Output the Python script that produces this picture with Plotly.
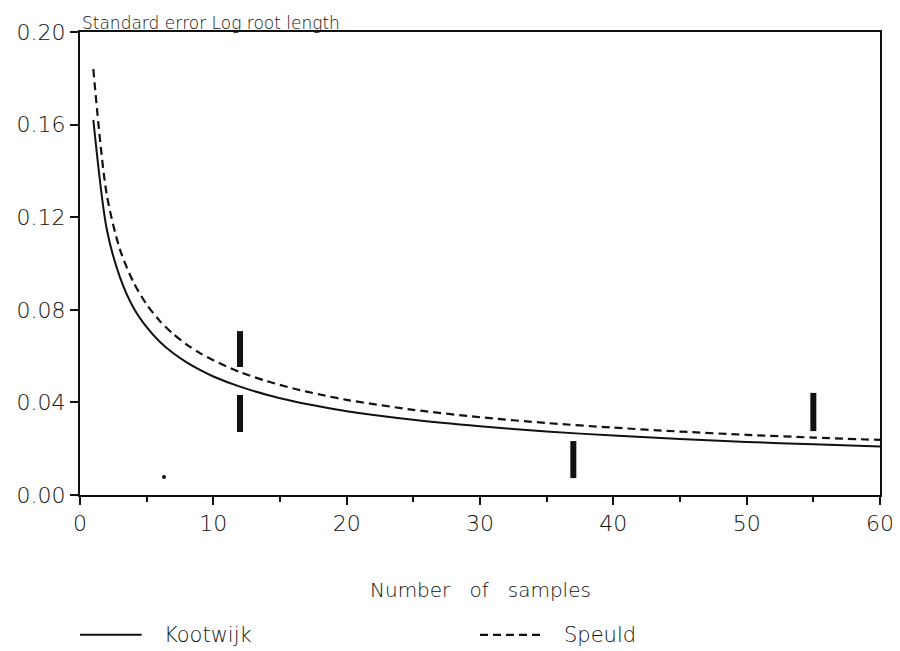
import plotly.graph_objects as go

# Data
n_samples = [1, 2, 3, 4, 5, 6, 7, 8, 9, 10, 12, 14, 16, 18, 20, 25, 30, 35, 40, 45, 50, 55, 60]
kootwijk = [0.162, 0.115, 0.094, 0.081, 0.0725, 0.0661, 0.0612, 0.0573, 0.054, 0.0512, 0.0468, 0.0433,
            0.0405, 0.0382, 0.0362, 0.0325, 0.0297, 0.0274, 0.0257, 0.0242, 0.0229, 0.0219, 0.0209]
speuld = [0.184, 0.130, 0.106, 0.092, 0.0823, 0.0751, 0.0695, 0.065, 0.0613, 0.0582, 0.0531, 0.0492,
          0.046, 0.0434, 0.0411, 0.0368, 0.0336, 0.0311, 0.0291, 0.0274, 0.026, 0.0248, 0.0238]

bar_x = [12, 12, 37, 55]
bar_lo = [0.0553, 0.0272, 0.0073, 0.0276]
bar_hi = [0.0708, 0.0432, 0.0233, 0.0441]

dot_x = [6.3]
dot_y = [0.0078]

y_ticks = [0.00, 0.04, 0.08, 0.12, 0.16, 0.20]
x_ticks = [0, 10, 20, 30, 40, 50, 60]

FONT = "DejaVu Sans"
INK = "#111111"
TXT = "#111111"

fig = go.Figure()
fig.add_trace(go.Scatter(x=n_samples, y=kootwijk, mode="lines", line_shape="spline",
                         line=dict(color=INK, width=2, smoothing=0.8), name="Kootwijk", showlegend=False))
fig.add_trace(go.Scatter(x=n_samples, y=speuld, mode="lines", line_shape="spline",
                         line=dict(color=INK, width=2.2, dash="8px,5px", smoothing=0.8),
                         name="Speuld", showlegend=False))

bx, by = [], []
for x, lo, hi in zip(bar_x, bar_lo, bar_hi):
    bx += [x, x, None]
    by += [lo, hi, None]
fig.add_trace(go.Scatter(x=bx, y=by, mode="lines", line=dict(color=INK, width=6),
                         showlegend=False, hoverinfo="skip"))
fig.add_trace(go.Scatter(x=dot_x, y=dot_y, mode="markers", marker=dict(color=INK, size=4),
                         showlegend=False, hoverinfo="skip"))

# page body has an 8px default margin: compensate so the plot area sits at x 80-880, y 32-495
fig.update_layout(
    width=892, height=643,
    margin=dict(l=72, r=20, t=24, b=156),
    paper_bgcolor="white", plot_bgcolor="white",
    font=dict(family=FONT, color=TXT, size=19, weight=300),
    showlegend=False,
)
fig.update_xaxes(
    range=[0, 60], tickvals=x_ticks, ticktext=[str(v) for v in x_ticks],
    showgrid=False, zeroline=False, showline=True, linecolor=INK, linewidth=2, mirror=True,
    ticks="outside", ticklen=8, tickwidth=2, tickcolor=INK,
    minor=dict(dtick=5, ticks="outside", ticklen=5, tickwidth=2, tickcolor=INK, showgrid=False),
    tickfont=dict(size=22, family=FONT, color=TXT, weight=300),
    automargin=False,
)
fig.update_yaxes(
    range=[0, 0.2], tickvals=y_ticks, ticktext=[f"{v:.2f}" for v in y_ticks],
    showgrid=False, zeroline=False, showline=True, linecolor=INK, linewidth=2, mirror=True,
    ticks="outside", ticklen=8, tickwidth=2, tickcolor=INK,
    tickfont=dict(size=22, family=FONT, color=TXT, weight=300),
    automargin=False,
)

fig.add_annotation(text="Standard error Log root length", xref="paper", yref="paper",
                   x=0, y=1, xanchor="left", yanchor="bottom", yshift=-3, showarrow=False,
                   font=dict(size=17, family=FONT, color=TXT, weight=300))

fig.add_annotation(text="Number&nbsp;&nbsp; of&nbsp;&nbsp; samples", xref="paper", yref="paper",
                   x=0.5, y=-0.205, xanchor="center", yanchor="middle", showarrow=False,
                   font=dict(size=20, family=FONT, color=TXT, weight=300))

# Legend drawn manually
leg_y = -0.302
fig.add_shape(type="line", xref="paper", yref="paper", x0=0.0, x1=0.077, y0=leg_y, y1=leg_y,
              line=dict(color=INK, width=2))
fig.add_annotation(text="Kootwijk", xref="paper", yref="paper", x=0.102, y=leg_y,
                   xanchor="left", yanchor="middle", showarrow=False,
                   font=dict(size=21, family=FONT, color=TXT, weight=300))
fig.add_shape(type="line", xref="paper", yref="paper", x0=0.5, x1=0.575, y0=leg_y, y1=leg_y,
              line=dict(color=INK, width=2.2, dash="8px,5px"))
fig.add_annotation(text="Speuld", xref="paper", yref="paper", x=0.602, y=leg_y,
                   xanchor="left", yanchor="middle", showarrow=False,
                   font=dict(size=21, family=FONT, color=TXT, weight=300))

fig.write_html("out.html")
